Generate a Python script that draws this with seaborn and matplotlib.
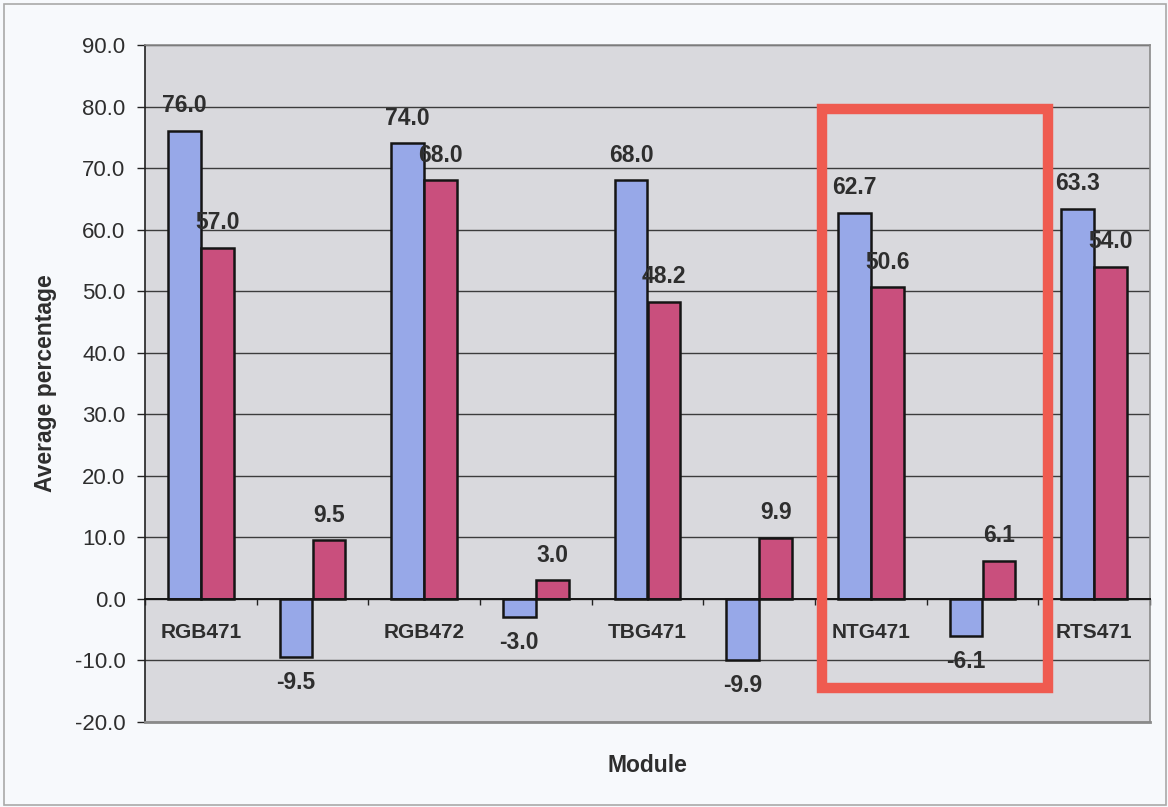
import matplotlib
matplotlib.use("Agg")
import matplotlib.pyplot as plt
from matplotlib.patches import Rectangle
from matplotlib.ticker import FixedLocator, FormatStrFormatter
import seaborn as sns
import pandas as pd

# ---- data ----
slots = ["RGB471", "d1", "RGB472", "d2", "TBG471", "d3", "NTG471", "d4", "RTS471"]
slot_labels = ["RGB471", "", "RGB472", "", "TBG471", "", "NTG471", "", "RTS471"]
series_a = [76.0, -9.5, 74.0, -3.0, 68.0, -9.9, 62.7, -6.1, 63.3]
series_b = [57.0, 9.5, 68.0, 3.0, 48.2, 9.9, 50.6, 6.1, 54.0]
series_names = ["Series A", "Series B"]
y_ticks = [-20, -10, 0, 10, 20, 30, 40, 50, 60, 70, 80, 90]

df = pd.DataFrame({
    "Module": slots * 2,
    "series": [series_names[0]] * len(slots) + [series_names[1]] * len(slots),
    "value": series_a + series_b,
})

plt.rcParams["font.family"] = ["Liberation Sans", "DejaVu Sans"]
txt = "#2e2e2e"

fig = plt.figure(figsize=(11.68, 8.07), dpi=100)
fig.patch.set_facecolor("#f7f9fc")
ax = fig.add_axes([145 / 1168, 1 - 722 / 807, (1150 - 145) / 1168, (722 - 45) / 807])
ax.set_facecolor("#d9d9dd")

sns.barplot(data=df, x="Module", y="value", hue="series", order=slots,
            hue_order=series_names, palette=["#97a8e8", "#c94f7d"],
            width=0.59, edgecolor="#151515", linewidth=1.8, ax=ax,
            legend=False, errorbar=None, saturation=1)

for cont in ax.containers:
    ax.bar_label(cont, fmt="%.1f", padding=10, fontsize=16.5,
                 fontweight="bold", color=txt)

ax.set_ylim(y_ticks[0], y_ticks[-1])
ax.set_xlim(-0.5, len(slots) - 0.5)
ax.yaxis.set_major_locator(FixedLocator(y_ticks))
ax.yaxis.set_major_formatter(FormatStrFormatter("%.1f"))
ax.set_axisbelow(True)
ax.grid(axis="y", color="#3c3c3c", linewidth=1.0)
ax.grid(axis="x", visible=False)

# x axis at zero
ax.spines["bottom"].set_position(("data", 0))
ax.spines["bottom"].set_color("#151515")
ax.spines["bottom"].set_linewidth(1.4)
ax.spines["left"].set_color("#222222")
ax.spines["left"].set_linewidth(1.2)
for s in ["top", "right"]:
    ax.spines[s].set_color("#8a8a8a")
    ax.spines[s].set_linewidth(1.2)
ax.axhline(y_ticks[0], color="#8a8a8a", linewidth=2, zorder=5, clip_on=False)

ax.set_xticks(range(len(slots)))
ax.set_xticklabels(slot_labels, fontsize=15, fontweight="bold", color=txt)
ax.tick_params(axis="x", which="major", length=0, pad=17)
ax.xaxis.set_minor_locator(FixedLocator([i - 0.5 for i in range(len(slots) + 1)]))
ax.tick_params(axis="x", which="minor", length=4, direction="out", color="#222222", width=1)
ax.tick_params(axis="y", length=6, direction="out", color="#222222", width=1,
               labelsize=16, labelcolor=txt, pad=8)

ax.set_xlabel("Module", fontsize=16.5, fontweight="bold", color=txt)
ax.xaxis.set_label_coords(0.5, -0.047)
ax.set_ylabel("Average percentage", fontsize=16.5, fontweight="bold", color=txt)
ax.yaxis.set_label_coords(-0.088, 0.5)

# highlight box around NTG471 group
ax.add_patch(Rectangle((6 - 0.44, -14.5), 2.03, 94.1, fill=False,
                       edgecolor="#ef5b50", linewidth=7.5, zorder=10,
                       clip_on=False))

# outer frame
fig.add_artist(Rectangle((4 / 1168, 1 - 805 / 807), 1162 / 1168, 801 / 807,
                         transform=fig.transFigure, fill=False,
                         edgecolor="#a9a9a9", linewidth=1.2))

fig.savefig("out.png", dpi=100, facecolor=fig.get_facecolor())
